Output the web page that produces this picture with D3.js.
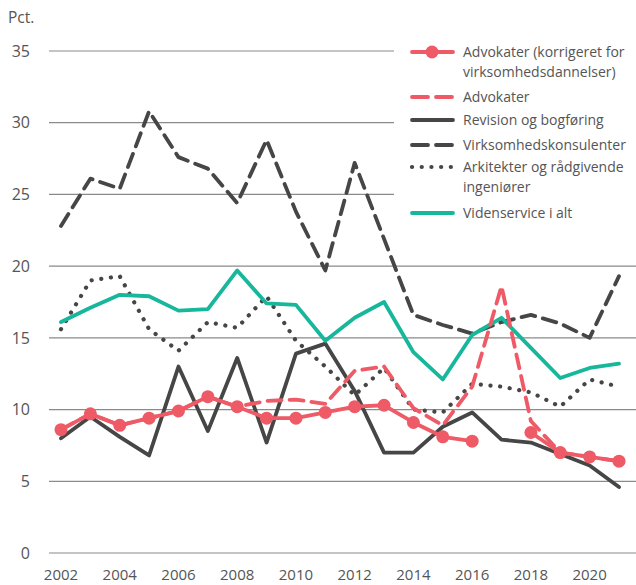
<!DOCTYPE html>
<html lang="da">
<head>
	<meta charset="utf-8">
	<title>Videnservice</title>
	<script src="https://d3js.org/d3.v7.min.js"></script>
	<style type="text/css">
		body {
			margin: 0;
			background: #fff;
		}
		text {
			font-family: "Open Sans", sans-serif;
			fill: #555;
		}
		.grid line {
			stroke: #8a8a8a;
			stroke-width: 1.2;
		}
		.series {
			fill: none;
			stroke-width: 3.8;
			stroke-linejoin: round;
		}
	</style>
</head>
<body>
<script type="text/javascript">
// Data
var years = [2002, 2003, 2004, 2005, 2006, 2007, 2008, 2009, 2010, 2011,
             2012, 2013, 2014, 2015, 2016, 2017, 2018, 2019, 2020, 2021];
var advokaterKorr = [8.6, 9.7, 8.9, 9.4, 9.9, 10.9, 10.2, 9.4, 9.4, 9.8,
                     10.2, 10.3, 9.1, 8.1, 7.8, null, 8.4, 7.0, 6.7, 6.4];
var advokater = [8.6, 9.7, 8.9, 9.4, 9.9, 10.9, 10.2, 10.6, 10.7, 10.4,
                 12.7, 13.0, 10.1, 8.9, 11.6, 18.6, 9.2, 7.0, 6.7, 6.4];
var revision = [8.0, 9.5, 8.1, 6.8, 13.0, 8.5, 13.6, 7.7, 13.9, 14.6,
                11.3, 7.0, 7.0, 8.8, 9.8, 7.9, 7.7, 6.9, 6.1, 4.6];
var virksomhed = [22.8, 26.1, 25.4, 30.8, 27.6, 26.8, 24.4, 28.8, 23.8, 19.7,
                  27.2, 21.9, 16.6, 15.9, 15.3, 16.1, 16.6, 16.0, 15.0, 19.3];
var arkitekter = [15.6, 19.0, 19.3, 15.6, 14.1, 16.1, 15.7, 17.9, 14.8, 13.0,
                  11.0, 12.9, 10.0, 9.8, 11.8, 11.6, 11.2, 10.2, 12.1, 11.6];
var videnservice = [16.1, 17.1, 18.0, 17.9, 16.9, 17.0, 19.7, 17.4, 17.3, 14.8,
                    16.4, 17.5, 14.0, 12.1, 15.2, 16.4, 14.3, 12.2, 12.9, 13.2];

var yTicks = [0, 5, 10, 15, 20, 25, 30, 35];
var xTicks = [2002, 2004, 2006, 2008, 2010, 2012, 2014, 2016, 2018, 2020];

var pink = "#ee5a66";
var dark = "#464646";
var teal = "#16b79b";
var dashed = "14,8";
var dotted = "0.1,9.6";

// Series, in drawing order (bottom first)
var series = [
	{name: "Virksomhedskonsulenter", values: virksomhed, color: dark, dash: dashed},
	{name: "Arkitekter", values: arkitekter, color: dark, dash: dotted},
	{name: "Revision", values: revision, color: dark, dash: null},
	{name: "Videnservice", values: videnservice, color: teal, dash: null},
	{name: "Advokater", values: advokater, color: pink, dash: dashed},
	{name: "AdvokaterKorr", values: advokaterKorr, color: pink, dash: null, markers: true}
];

var legendItems = [
	{lines: ["Advokater (korrigeret for", "virksomhedsdannelser)"], color: pink, dash: null, markers: true},
	{lines: ["Advokater"], color: pink, dash: dashed},
	{lines: ["Revision og bogføring"], color: dark, dash: null},
	{lines: ["Virksomhedskonsulenter"], color: dark, dash: dashed},
	{lines: ["Arkitekter og rådgivende", "ingeniører"], color: dark, dash: dotted},
	{lines: ["Videnservice i alt"], color: teal, dash: null}
];

var width = 636;
var height = 585;

var svg = d3.select("body")
			.append("svg")
			.attr("width", width)
			.attr("height", height);

var xScale = d3.scaleLinear()
				.domain([2002, 2021])
				.range([61, 619]);

var yScale = d3.scaleLinear()
				.domain([0, 35])
				.range([553, 51]);

// Gridlines (upper ones stop before the legend)
var grid = svg.append("g").attr("class", "grid");
grid.selectAll("line")
	.data(yTicks)
	.enter()
	.append("line")
	.attr("x1", 49)
	.attr("x2", function(d) { return d >= 25 ? 394 : width; })
	.attr("y1", function(d) { return yScale(d); })
	.attr("y2", function(d) { return yScale(d); });

// Y axis labels
svg.append("g")
	.selectAll("text")
	.data(yTicks)
	.enter()
	.append("text")
	.attr("x", 30)
	.attr("y", function(d) { return yScale(d); })
	.attr("dy", "0.36em")
	.attr("text-anchor", "end")
	.style("font-size", "16px")
	.text(function(d) { return d; });

svg.append("text")
	.attr("x", 8)
	.attr("y", 23)
	.style("font-size", "15.5px")
	.text("Pct.");

// X axis labels
svg.append("g")
	.selectAll("text")
	.data(xTicks)
	.enter()
	.append("text")
	.attr("x", function(d) { return xScale(d); })
	.attr("y", 580)
	.attr("text-anchor", "middle")
	.style("font-size", "15px")
	.text(function(d) { return d; });

// Lines
var line = d3.line()
	.defined(function(d) { return d.v != null; })
	.x(function(d) { return xScale(d.year); })
	.y(function(d) { return yScale(d.v); });

series.forEach(function(s) {
	var pts = years.map(function(y, i) { return {year: y, v: s.values[i]}; });
	svg.append("path")
		.datum(pts)
		.attr("class", "series")
		.attr("d", line)
		.style("stroke", s.color)
		.style("stroke-linecap", "round")
		.style("stroke-width", s.dash === dotted ? 4.2 : 3.8)
		.style("stroke-dasharray", s.dash);
	if (s.markers) {
		svg.append("g")
			.selectAll("circle")
			.data(pts.filter(function(d) { return d.v != null; }))
			.enter()
			.append("circle")
			.attr("cx", function(d) { return xScale(d.year); })
			.attr("cy", function(d) { return yScale(d.v); })
			.attr("r", 6.5)
			.style("fill", s.color);
	}
});

// Legend
var legendY = [52, 97, 120, 145, 167, 213];
var legend = svg.append("g");
legendItems.forEach(function(item, i) {
	var y = legendY[i];
	legend.append("line")
		.attr("x1", 412)
		.attr("x2", 453)
		.attr("y1", y)
		.attr("y2", y)
		.style("stroke", item.color)
		.style("stroke-width", item.dash === dotted ? 4.2 : 3.8)
		.style("stroke-linecap", "round")
		.style("stroke-dasharray", item.dash === dashed ? "16,8" : item.dash);
	if (item.markers) {
		legend.append("circle")
			.attr("cx", 432)
			.attr("cy", y)
			.attr("r", 6.5)
			.style("fill", item.color);
	}
	item.lines.forEach(function(t, j) {
		legend.append("text")
			.attr("x", 463)
			.attr("y", y + j * 20)
			.attr("dy", "0.35em")
			.style("font-size", "14px")
			.text(t);
	});
});
</script>
</body>
</html>
